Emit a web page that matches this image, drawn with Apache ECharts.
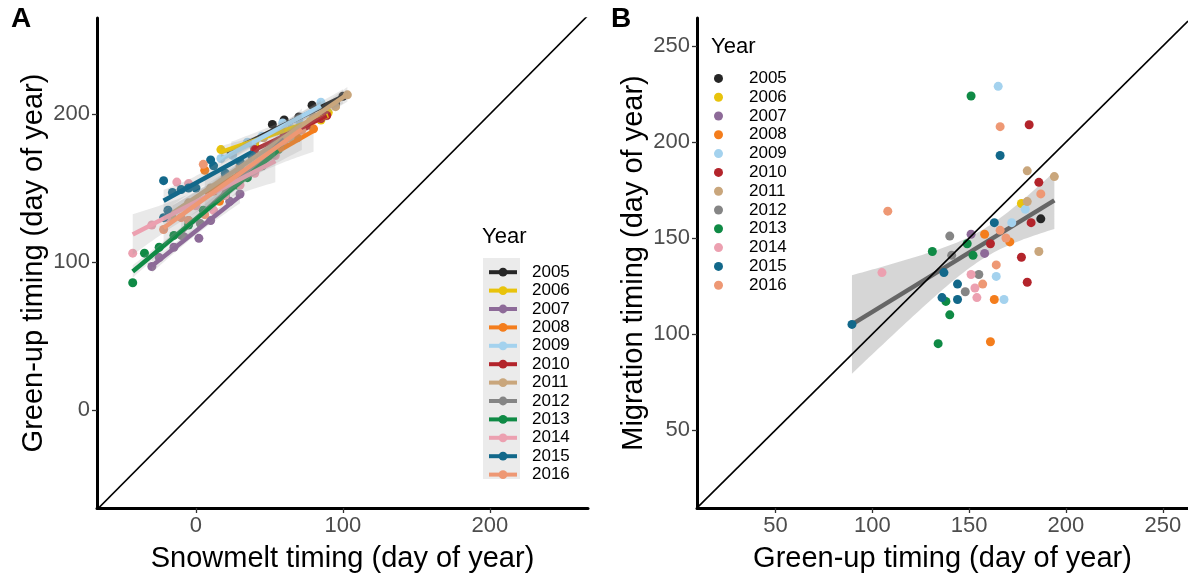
<!DOCTYPE html>
<html><head><meta charset="utf-8">
<script src="https://cdn.jsdelivr.net/npm/echarts@6/dist/echarts.min.js"></script>
<style>html,body{margin:0;padding:0;background:#fff}#c{width:1188px;height:581px}</style>
</head><body><div id="c"></div>
<script>
// ---------- data ----------
const years = ['2005','2006','2007','2008','2009','2010','2011','2012','2013','2014','2015','2016'];
const yearColors = ['#262626','#e8c30c','#8d6a98','#f47d1c','#a4d2ee','#b3242b','#c9a67c','#858585','#0f8a45','#eca0b0','#12688a','#ee9874'];

// Panel A: [snowmelt day, green-up day]
const snowA2005 = [[24,174],[40,178],[52,193],[60,196],[70,198],[79,206],[88,202],[95,207],[100,212]];
const snowA2006 = [[17,176],[40,180],[60,188],[78,195],[85,196],[90,201]];
const snowA2007 = [[-30,97],[-25,103],[-15,110],[-8,117],[2,116],[10,128],[23,141],[30,146]];
const snowA2008 = [[6,162],[12,148],[16,141],[20,150],[30,158],[50,172],[69,184],[80,190]];
const snowA2009 = [[17,170],[25,172],[35,181],[38,180],[45,185],[59,194],[65,190],[70,196],[85,208]];
const snowA2010 = [[40,176],[60,185],[75,192],[85,197],[89,199]];
const snowA2011 = [[-16,130],[-5,140],[10,150],[20,158],[30,165],[46,184],[64,184],[80,198],[95,205],[103,213]];
const snowA2012 = [[-10,118],[-5,128],[3,126],[20,150],[30,160],[40,165],[60,180]];
const snowA2013 = [[-43,86],[-35,106],[-25,110],[-15,118],[-5,125],[5,135],[20,145],[28,152],[35,157],[45,165],[56,176]];
const snowA2014 = [[-43,106],[-30,125],[-20,130],[-13,154],[-5,153],[0,138],[12,135],[20,145],[30,152],[40,160],[54,172]];
const snowA2015 = [[-22,155],[-22,130],[-19,135],[-16,147],[-10,149],[-5,150],[0,150],[10,169],[12,165],[20,160],[30,168],[38,172]];
const snowA2016 = [[-22,122],[-10,130],[-5,128],[5,166],[6,132],[20,152],[30,160],[50,172],[60,182],[72,189]];

// Panel B: [green-up day, migration day]
const greenB2005 = [[187,160]];
const greenB2006 = [[177,168]];
const greenB2007 = [[151,152],[158,142]];
const greenB2008 = [[158,152],[171,148],[163,118],[161,96]];
const greenB2009 = [[165,229],[179,165],[172,158],[164,130],[168,118]];
const greenB2010 = [[181,209],[186,179],[182,158],[161,147],[177,140],[180,127]];
const greenB2011 = [[180,185],[194,182],[180,169],[186,143]];
const greenB2012 = [[140,151],[141,141],[148,122],[155,131]];
const greenB2013 = [[151,224],[131,143],[149,147],[152,141],[138,117],[140,110],[134,95]];
const greenB2014 = [[105,132],[151,131],[153,124],[154,119]];
const greenB2015 = [[166,193],[163,158],[137,132],[136,119],[144,126],[144,118],[89.5,105]];
const greenB2016 = [[166,208],[108,164],[187,173],[166,154],[169,150],[164,136],[157,126]];

const ticksA = [0,100,200];
const ticksBx = [50,100,150,200,250];
const ticksBy = [50,100,150,200,250];

// ---------- helpers ----------
const panelA = [snowA2005,snowA2006,snowA2007,snowA2008,snowA2009,snowA2010,snowA2011,snowA2012,snowA2013,snowA2014,snowA2015,snowA2016];
const panelB = [greenB2005,greenB2006,greenB2007,greenB2008,greenB2009,greenB2010,greenB2011,greenB2012,greenB2013,greenB2014,greenB2015,greenB2016];
const tTable = [12.706,4.303,3.182,2.776,2.571,2.447,2.365,2.306,2.262,2.228,2.201,2.179,2.160,2.145,2.131,2.120,2.110,2.101,2.093,2.086,2.080,2.074,2.069,2.064,2.060,2.056,2.052,2.048,2.045,2.042];
function tq(df){ return df<=30 ? tTable[df-1] : 1.96 + 2.4/df; }
function lmFit(pts){
  const n = pts.length;
  let mx=0,my=0; pts.forEach(p=>{mx+=p[0];my+=p[1];}); mx/=n; my/=n;
  let sxx=0,sxy=0; pts.forEach(p=>{sxx+=(p[0]-mx)**2; sxy+=(p[0]-mx)*(p[1]-my);});
  const b = sxy/sxx, a = my-b*mx;
  let sse=0; pts.forEach(p=>{sse+=(p[1]-a-b*p[0])**2;});
  const s = Math.sqrt(sse/(n-2)), t = tq(n-2);
  const xs = pts.map(p=>p[0]); const x0=Math.min(...xs), x1=Math.max(...xs);
  const band=[], line=[];
  for(let i=0;i<=60;i++){
    const x = x0+(x1-x0)*i/60, yhat=a+b*x;
    const se = s*Math.sqrt(1/n+(x-mx)**2/sxx);
    band.push([x,yhat-t*se,yhat+t*se]);
    line.push([x,yhat]);
  }
  return {band,line};
}
function bandSeries(name, band, xi, yi, fill, opacity, z){
  return {
    type:'custom', name, xAxisIndex:xi, yAxisIndex:yi, z, silent:true,
    data: band, encode:{x:0,y:[1,2]},
    renderItem:function(params, api){
      if(params.dataIndex!==0) return null;
      const top = band.map(d=>api.coord([d[0],d[2]]));
      const bot = band.map(d=>api.coord([d[0],d[1]])).reverse();
      return {type:'polygon', shape:{points:top.concat(bot)}, style:{fill, opacity}};
    }
  };
}

const FONT = "'Liberation Sans', Arial, Helvetica, sans-serif";
const limA = {x:[-67.3,266.7], y:[-66.2,264.9]};
const limB = {x:[9.5,263], y:[9.4,264.6]};

function axis(grid, lim, ticks, name, nameGap){
  return {
    type:'value', gridIndex:grid, min:lim[0], max:lim[1],
    name, nameLocation:'middle', nameGap,
    nameTextStyle:{fontFamily:FONT, fontSize:29, color:'#000'},
    axisLine:{show:true, onZero:false, lineStyle:{color:'#000', width:3}},
    axisTick:{show:true, length:5, customValues:ticks, lineStyle:{color:'#333', width:1.3}},
    axisLabel:{show:true, customValues:ticks, fontFamily:FONT, fontSize:22, color:'#4d4d4d', margin:7},
    splitLine:{show:false}
  };
}

const series = [];
// identity line, panel A
series.push({type:'line', xAxisIndex:0, yAxisIndex:0, data:[[limA.x[0],limA.x[0]],[limA.x[1],limA.x[1]]],
  symbol:'none', lineStyle:{color:'#000', width:1.6}, z:1, silent:true, clip:true});
// Panel A per-year: fitted line (legend icon), band, then points
years.forEach((y,i)=>{
  const f = lmFit(panelA[i]);
  series.push({type:'line', name:'A'+y, xAxisIndex:0, yAxisIndex:0, data:[f.line[0], f.line[f.line.length-1]],
    symbol:'circle', symbolSize:9, showSymbol:false, color:yearColors[i],
    lineStyle:{width:4.5, color:yearColors[i]}, z:20+2*i, silent:true});
  series.push(bandSeries('A'+y, f.band, 0, 0, '#9a9a9a', 0.22, 19+2*i));
});
years.forEach((y,i)=>{
  series.push({type:'scatter', name:'A'+y, xAxisIndex:0, yAxisIndex:0, data:panelA[i],
    symbolSize:9, itemStyle:{color:yearColors[i], opacity:1}, z:5, silent:true});
});
// Panel B
const allB = [].concat(...panelB);
const fB = lmFit(allB);
series.push(bandSeries('Bfit', fB.band, 1, 1, '#999999', 0.4, 2));
series.push({type:'line', name:'Bfitline', xAxisIndex:1, yAxisIndex:1, data:[fB.line[0], fB.line[fB.line.length-1]],
  symbol:'none', lineStyle:{width:4.5, color:'#666666'}, z:3, silent:true});
years.forEach((y,i)=>{
  series.push({type:'scatter', name:'B'+y, xAxisIndex:1, yAxisIndex:1, data:panelB[i],
    symbolSize:9, itemStyle:{color:yearColors[i], opacity:1}, z:4, silent:true});
});
series.push({type:'line', xAxisIndex:1, yAxisIndex:1, data:[[limB.x[0],limB.x[0]],[limB.x[1],limB.x[1]]],
  symbol:'none', lineStyle:{color:'#000', width:1.6}, z:6, silent:true, clip:true});

const option = {
  backgroundColor:'#fff',
  animation:false,
  grid:[
    {left:97, top:18, width:491, height:490},
    {left:697, top:18, width:491, height:490}
  ],
  xAxis:[
    axis(0, limA.x, ticksA, 'Snowmelt timing (day of year)', 36),
    axis(1, limB.x, ticksBx, 'Green-up timing (day of year)', 36)
  ],
  yAxis:[
    axis(0, limA.y, ticksA, 'Green-up timing (day of year)', 49),
    axis(1, limB.y, ticksBy, 'Migration timing (day of year)', 49)
  ],
  legend:[
    {left:487, top:263, padding:0, orient:'vertical', itemWidth:28, itemHeight:11, itemGap:0,
     data: years.map(y=>'A'+y), formatter:n=>n.slice(1), selectedMode:false,
     lineStyle:{width:4}, z:10,
     textStyle:{fontFamily:FONT, fontSize:17, color:'#000', lineHeight:18.4, padding:[0,0,0,10]}},
    {left:714, top:69, padding:0, orient:'vertical', icon:'circle', itemWidth:9, itemHeight:9, itemGap:0,
     data: years.map(y=>'B'+y), formatter:n=>n.slice(1), selectedMode:false, z:10,
     textStyle:{fontFamily:FONT, fontSize:17, color:'#000', lineHeight:18.8, padding:[0,0,0,21]}}
  ],
  graphic:[
    {type:'rect', left:483, top:258, shape:{width:37, height:221}, style:{fill:'#ebebeb'}, z:1, silent:true},
    {type:'text', left:482, top:226, style:{text:'Year', fontFamily:FONT, fontSize:22, fill:'#000'}, z:10},
    {type:'text', left:711, top:36, style:{text:'Year', fontFamily:FONT, fontSize:22, fill:'#000'}, z:10},
    {type:'text', left:11, top:5, style:{text:'A', fontFamily:FONT, fontSize:28, fontWeight:'bold', fill:'#000'}, z:10},
    {type:'text', left:611, top:5, style:{text:'B', fontFamily:FONT, fontSize:28, fontWeight:'bold', fill:'#000'}, z:10}
  ],
  series
};
const chart = echarts.init(document.getElementById('c'), null, {renderer:'canvas'});
chart.setOption(option);
</script>
</body></html>
